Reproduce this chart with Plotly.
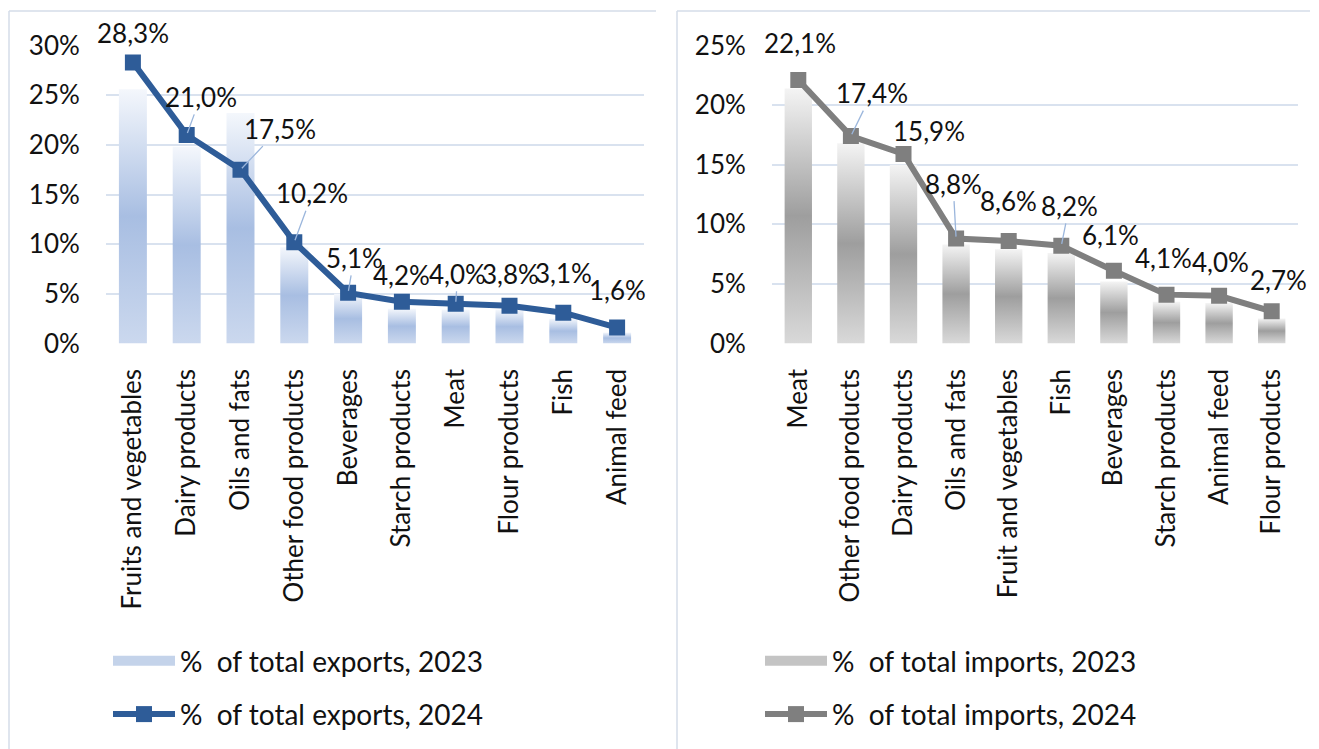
import plotly.graph_objects as go

# ---- data -------------------------------------------------------------
exp_categories = ["Fruits and vegetables", "Dairy products", "Oils and fats",
                  "Other food products", "Beverages", "Starch products", "Meat",
                  "Flour products", "Fish", "Animal feed"]
exp_2023 = [25.6, 19.8, 23.2, 9.7, 5.0, 3.5, 3.4, 3.4, 2.5, 1.1]
exp_2024 = [28.3, 21.0, 17.5, 10.2, 5.1, 4.2, 4.0, 3.8, 3.1, 1.6]

imp_categories = ["Meat", "Other food products", "Dairy products", "Oils and fats",
                  "Fruit and vegetables", "Fish", "Beverages", "Starch products",
                  "Animal feed", "Flour products"]
imp_2023 = [21.4, 16.8, 15.0, 8.3, 7.9, 7.6, 5.2, 3.5, 3.4, 2.1]
imp_2024 = [22.1, 17.4, 15.9, 8.8, 8.6, 8.2, 6.1, 4.1, 4.0, 2.7]

exp_ticks = [0, 5, 10, 15, 20, 25, 30]
imp_ticks = [0, 5, 10, 15, 20, 25]

# ---- label placement (pixel offsets from the point, leader line on/off) ----
exp_label_offsets = [(0, -29, False), (14, -38, True), (39, -41, True), (18, -49, True),
                     (6, -35, True), (0, -27, False), (2, -30, True), (1, -32, False),
                     (0, -40, False), (0, -38, False)]
imp_label_offsets = [(2, -37, False), (21, -43, True), (25, -23, False), (-3, -55, True),
                     (0, -40, False), (8, -40, True), (-3, -36, False), (-3, -37, False),
                     (1, -34, False), (7, -31, False)]

# ---- styles -------------------------------------------------------------
FONT = "Lato, 'Open Sans', sans-serif"
FSIZE = 26
LEGEND_FSIZE = 28
TEXT = "#111111"
GRID = "#d9e2ef"
LEADER = "#9bb6dc"
BLUE = "#2e5c98"
GREY = "#7f7f7f"
BLUE_GRAD = [[0.0, "#cbd8ee"], [0.5, "#a8bee2"], [1.0, "#f4f7fc"]]
GREY_GRAD = [[0.0, "#d9d9d9"], [0.5, "#9e9e9e"], [1.0, "#f4f4f4"]]
BLUE_SWATCH = "#c4d3ea"
GREY_SWATCH = "#c4c4c4"
BAR_HALF = 0.26

fig = go.Figure()


def add_panel(values_bar, values_line, xa, ya, grad, swatch, line_color,
              bar_name, line_name, legend):
    # legend entry for the gradient columns
    fig.add_trace(go.Scatter(
        x=[None], y=[None], xaxis=xa, yaxis=ya, mode="lines", name=bar_name,
        legendgroup=bar_name, legend=legend, line=dict(color=swatch, width=14),
        hoverinfo="skip"))
    for i, v in enumerate(values_bar):
        fig.add_trace(go.Scatter(
            x=[i - BAR_HALF, i - BAR_HALF, i + BAR_HALF, i + BAR_HALF, i - BAR_HALF],
            y=[0, v, v, 0, 0],
            xaxis=xa, yaxis=ya, mode="none", fill="toself",
            fillgradient=dict(type="vertical", colorscale=grad, start=0, stop=v),
            name=bar_name, legendgroup=bar_name, showlegend=False,
            legend=legend, hoverinfo="skip"))
    fig.add_trace(go.Scatter(
        x=list(range(len(values_line))), y=values_line, xaxis=xa, yaxis=ya,
        mode="lines+markers", name=line_name, legendgroup=line_name, legend=legend,
        line=dict(color=line_color, width=6),
        marker=dict(symbol="square", size=16, color=line_color)))


def add_labels(values, offsets, xref, yref):
    for i, (v, (dx, dy, leader)) in enumerate(zip(values, offsets)):
        txt = f"{v:.1f}".replace(".", ",") + "%"
        if leader:
            fig.add_annotation(x=i, y=v, xref=xref, yref=yref, text=txt,
                               showarrow=True, ax=dx, ay=dy, arrowhead=0,
                               arrowwidth=1.3, arrowcolor=LEADER, standoff=2,
                               font=dict(family=FONT, size=FSIZE, color=TEXT))
        else:
            fig.add_annotation(x=i, y=v, xref=xref, yref=yref, text=txt,
                               showarrow=False, xshift=dx, yshift=-dy,
                               font=dict(family=FONT, size=FSIZE, color=TEXT))


add_panel(exp_2023, exp_2024, "x", "y", BLUE_GRAD, BLUE_SWATCH, BLUE,
          "%\u00a0 of total exports, 2023", "%\u00a0 of total exports, 2024", "legend")
add_panel(imp_2023, imp_2024, "x2", "y2", GREY_GRAD, GREY_SWATCH, GREY,
          "%\u00a0 of total imports, 2023", "%\u00a0 of total imports, 2024", "legend2")
add_labels(exp_2024, exp_label_offsets, "x", "y")
add_labels(imp_2024, imp_label_offsets, "x2", "y2")

W, H = 1319, 749
ydom = [1 - 343.5 / H, 1 - 45.5 / H]

xcommon = dict(range=[-0.5, 9.5], tickmode="array", tickvals=list(range(10)),
               tickangle=-90, showgrid=False, zeroline=False, showline=False,
               automargin=False, ticks="outside", ticklen=14, tickcolor="rgba(0,0,0,0)",
               tickfont=dict(family=FONT, size=FSIZE, color=TEXT), fixedrange=True)
ycommon = dict(showgrid=True, gridcolor=GRID, gridwidth=1.5, zeroline=False,
               showline=False, automargin=False, tickmode="array", ticks="outside",
               ticklen=20, tickcolor="rgba(0,0,0,0)", domain=ydom,
               tickfont=dict(family=FONT, size=FSIZE, color=TEXT), fixedrange=True)

legend_common = dict(font=dict(family=FONT, size=LEGEND_FSIZE, color=TEXT),
                     bgcolor="rgba(0,0,0,0)", orientation="v", traceorder="grouped",
                     tracegroupgap=14, itemwidth=62, xanchor="left", yanchor="top")

BORDER = dict(color="#d5dce8", width=1.5)

fig.update_layout(
    template="none",
    width=W, height=H, margin=dict(l=0, r=0, t=0, b=0, autoexpand=False),
    paper_bgcolor="white", plot_bgcolor="white",
    xaxis=dict(domain=[106 / W, 644 / W], ticktext=exp_categories, anchor="y", **xcommon),
    yaxis=dict(range=[0, 30], tickvals=exp_ticks, ticktext=[f"{t}%" for t in exp_ticks],
               anchor="x", **ycommon),
    xaxis2=dict(domain=[772 / W, 1298 / W], ticktext=imp_categories, anchor="y2", **xcommon),
    yaxis2=dict(range=[0, 25], tickvals=imp_ticks, ticktext=[f"{t}%" for t in imp_ticks],
                anchor="x2", **ycommon),
    legend=dict(x=108 / W, y=1 - 636 / H, **legend_common),
    legend2=dict(x=760 / W, y=1 - 636 / H, **legend_common),
    shapes=[
        dict(type="line", xref="paper", yref="paper", x0=9 / W, x1=9 / W,
             y0=0, y1=1 - 11 / H, line=BORDER),
        dict(type="line", xref="paper", yref="paper", x0=9 / W, x1=656 / W,
             y0=1 - 11 / H, y1=1 - 11 / H, line=BORDER),
        dict(type="line", xref="paper", yref="paper", x0=677 / W, x1=677 / W,
             y0=0, y1=1 - 11 / H, line=BORDER),
        dict(type="line", xref="paper", yref="paper", x0=677 / W, x1=1310 / W,
             y0=1 - 11 / H, y1=1 - 11 / H, line=BORDER),
    ],
    showlegend=True,
    hovermode=False,
)

fig.write_html("out.html")
